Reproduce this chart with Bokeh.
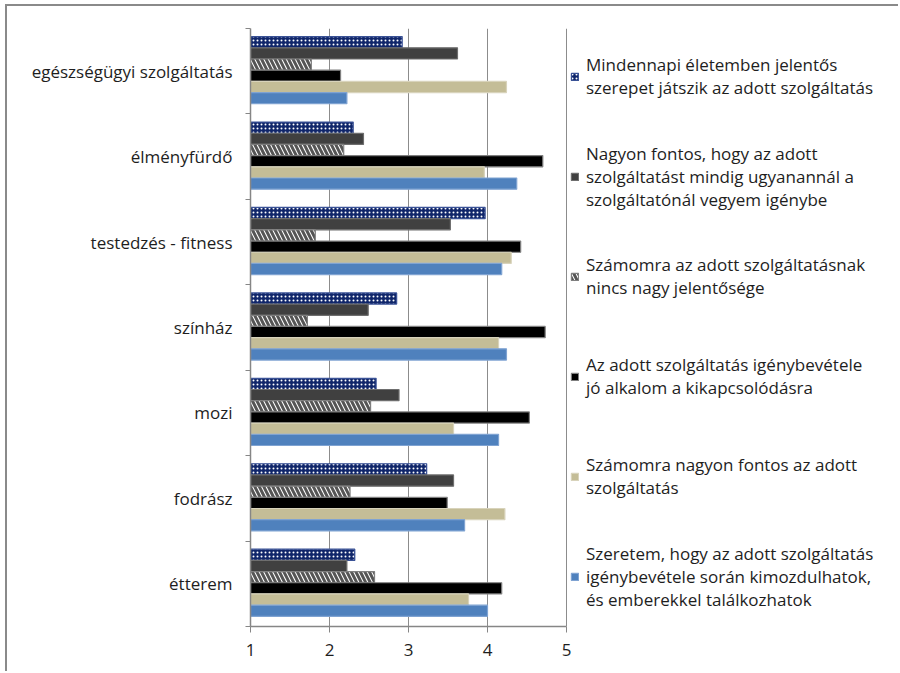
from bokeh.plotting import figure
from bokeh.models import (Range1d, ColumnDataSource, LinearAxis, FixedTicker, Legend, LegendItem)
from bokeh.transform import dodge
from bokeh.embed import file_html
from bokeh.resources import INLINE

categories = ["egészségügyi szolgáltatás", "élményfürdő", "testedzés - fitness",
              "színház", "mozi", "fodrász", "étterem"]

series_labels = [
    "Mindennapi életemben jelentős\nszerepet játszik az adott szolgáltatás",
    "Nagyon fontos, hogy az adott\nszolgáltatást mindig ugyanannál a\nszolgáltatónál vegyem igénybe",
    "Számomra az adott szolgáltatásnak\nnincs nagy jelentősége",
    "Az adott szolgáltatás igénybevétele\njó alkalom a kikapcsolódásra",
    "Számomra nagyon fontos az adott\nszolgáltatás",
    "Szeretem, hogy az adott szolgáltatás\nigénybevétele során kimozdulhatok,\nés emberekkel találkozhatok",
]

mindennapi = [2.92, 2.30, 3.97, 2.85, 2.59, 3.23, 2.32]
ugyanannal = [3.62, 2.43, 3.53, 2.49, 2.88, 3.57, 2.22]
nincs_jelentoseg = [1.77, 2.18, 1.82, 1.72, 2.52, 2.26, 2.57]
kikapcsolodas = [2.14, 4.70, 4.42, 4.73, 4.53, 3.49, 4.18]
nagyon_fontos = [4.24, 3.96, 4.30, 4.14, 3.57, 4.22, 3.76]
szeretem = [2.22, 4.37, 4.18, 4.24, 4.14, 3.71, 4.00]

x_ticks = [1, 2, 3, 4, 5]

series_values = [mindennapi, ugyanannal, nincs_jelentoseg, kikapcsolodas, nagyon_fontos, szeretem]

styles = [
    dict(fill_color="#10266a", line_color="#3a5296", hatch_pattern=".", hatch_color="white",
         hatch_scale=4, hatch_weight=1),
    dict(fill_color="#404040", line_color="#6e6e6e"),
    dict(fill_color="white", line_color="#7f7f7f", hatch_pattern="\\", hatch_color="#555555",
         hatch_scale=9, hatch_weight=3),
    dict(fill_color="black", line_color="#7f7f7f"),
    dict(fill_color="#c4bd97", line_color="#d8d3bb"),
    dict(fill_color="#4f81bd", line_color="#7fa3d2"),
]

FONT = "Open Sans"
n = len(categories)
# category centre positions, first category at the top
ypos = [n - 0.5 - i for i in range(n)]
boundaries = list(range(n + 1))

# the value axis (1..5) takes 316 px; the frame continues to the right edge to hold the legend
axis_px, frame_px = 316, 650
x_end = x_ticks[0] + (x_ticks[-1] - x_ticks[0]) * frame_px / axis_px

p = figure(width=893, height=667, output_backend="svg", toolbar_location=None,
           x_range=Range1d(x_ticks[0], x_end), y_range=Range1d(0, n),
           x_axis_location="below", y_axis_location=None,
           min_border_left=243, min_border_right=0, min_border_top=22, min_border_bottom=47)
p.styles = {"margin-left": "5px", "margin-top": "4px",
            "border-left": "2px solid #8a8a8a", "border-top": "2px solid #8a8a8a"}
p.outline_line_color = None
p.background_fill_color = "white"

source = ColumnDataSource(dict(cat=categories, y=ypos,
                               **{f"s{i}": v for i, v in enumerate(series_values)}))

bar_h = 0.131
renderers = []
for k, st in enumerate(styles):
    off = (2.5 - k) * bar_h + 0.012
    r = p.hbar(y=dodge("y", off), left=x_ticks[0], right=f"s{k}", height=bar_h,
               source=source, line_width=1.2, **st)
    renderers.append(r)

# category axis: labels at the centres, small ticks (minor) at the category boundaries
cat_axis = LinearAxis(ticker=FixedTicker(ticks=ypos, minor_ticks=boundaries),
                      major_label_overrides={y: c for y, c in zip(ypos, categories)},
                      axis_line_color="#868686", axis_line_width=1.5,
                      major_tick_line_color=None, major_tick_out=0, major_tick_in=0,
                      minor_tick_line_color="#868686", minor_tick_out=5, minor_tick_in=0,
                      minor_tick_line_width=1.2,
                      major_label_standoff=13,
                      major_label_text_font=FONT, major_label_text_font_size="17px",
                      major_label_text_color="#1e1e1e")
p.add_layout(cat_axis, "left")

xa = p.xaxis[0]
xa.ticker = FixedTicker(ticks=x_ticks)
xa.bounds = (x_ticks[0], x_ticks[-1])
xa.axis_line_color = "#868686"
xa.axis_line_width = 1.5
xa.major_tick_line_color = "#868686"
xa.major_tick_out = 6
xa.major_tick_in = 0
xa.minor_tick_line_color = None
xa.major_label_text_font = FONT
xa.major_label_text_font_size = "17px"
xa.major_label_text_color = "#1e1e1e"
xa.major_label_standoff = 11

p.xgrid.ticker = FixedTicker(ticks=x_ticks)
p.xgrid.grid_line_color = "#8c8c8c"
p.ygrid.grid_line_color = None

# legend placed to the right of the value axis (screen offsets from the frame's bottom-left)
legend = Legend(items=[LegendItem(label=lab, renderers=[r]) for lab, r in zip(series_labels, renderers)],
                location=(axis_px + 4, 0), margin=0, padding=4, spacing=0,
                glyph_width=9, glyph_height=9, label_standoff=7,
                label_text_font=FONT, label_text_font_size="17px", label_text_color="#1e1e1e",
                label_height=100, label_text_line_height=1.5,
                border_line_color=None, background_fill_alpha=0)
p.add_layout(legend)

open("out.html", "w").write(file_html(p, INLINE))
